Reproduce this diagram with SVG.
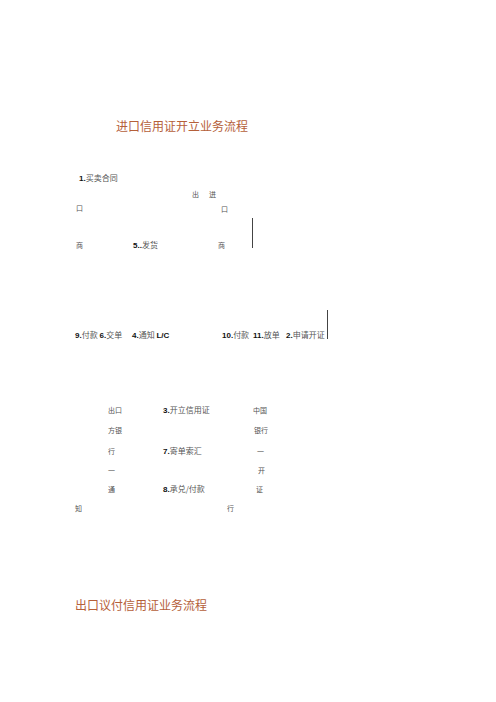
<svg xmlns="http://www.w3.org/2000/svg" width="496" height="702" viewBox="0 0 496 702">
<style>
.t{font-family:"Noto Sans CJK SC","Liberation Sans",sans-serif;font-size:12px;fill:#b5603a}
.l{font-family:"Noto Sans CJK SC","Liberation Sans",sans-serif;font-size:8px;fill:#555}
.n{font-family:"Liberation Sans",Arial,sans-serif;font-weight:bold;fill:#111}
.s{font-size:7px}
.c{stroke:#444;stroke-width:1;fill:none}
</style>
<rect width="496" height="702" fill="#fff"/>
<g id="title-import"><text class="t" x="116" y="131">进口信用证开立业务流程</text></g>
<g id="contract"><text class="l" x="79" y="181"><tspan class="n">1.</tspan>买卖合同</text></g>
<g id="exporter">
<text class="l s" x="192" y="197">出</text>
<text class="l s" x="76" y="211">口</text>
<text class="l s" x="76" y="248">商</text>
</g>
<g id="importer">
<text class="l s" x="209" y="197">进</text>
<text class="l s" x="221" y="212">口</text>
<text class="l s" x="218" y="248">商</text>
</g>
<g id="ship"><text class="l" x="133" y="248"><tspan class="n">5..</tspan>发货</text></g>
<g id="row-labels">
<text class="l" x="75" y="338"><tspan class="n">9.</tspan>付款 <tspan class="n">6.</tspan>交单</text>
<text class="l" x="132" y="338"><tspan class="n">4.</tspan>通知 <tspan class="n">L/C</tspan></text>
<text class="l" x="222" y="338"><tspan class="n">10.</tspan>付款 <tspan class="n" x="253">11.</tspan>放单 <tspan class="n" x="286">2.</tspan>申请开证</text>
</g>
<g id="advising-bank">
<text class="l s" x="108" y="413">出口</text>
<text class="l s" x="108" y="433">方银</text>
<text class="l s" x="108" y="454">行</text>
<text class="l s" x="108" y="473">一</text>
<text class="l s" x="108" y="492">通</text>
<text class="l s" x="75" y="511">知</text>
</g>
<g id="bank-labels">
<text class="l" x="163" y="413"><tspan class="n">3.</tspan>开立信用证</text>
<text class="l" x="163" y="454"><tspan class="n">7.</tspan>寄单索汇</text>
<text class="l" x="163" y="492"><tspan class="n">8.</tspan>承兑/付款</text>
</g>
<g id="issuing-bank">
<text class="l s" x="253" y="413">中国</text>
<text class="l s" x="254" y="433">银行</text>
<text class="l s" x="257" y="454">一</text>
<text class="l s" x="258" y="473">开</text>
<text class="l s" x="256" y="492">证</text>
<text class="l s" x="227" y="511">行</text>
</g>
<g id="connectors">
<line class="c" x1="252.5" y1="218" x2="252.5" y2="248"/>
<line class="c" x1="327.5" y1="310" x2="327.5" y2="339"/>
</g>
<g id="title-export"><text class="t" x="75" y="610">出口议付信用证业务流程</text></g>
</svg>
